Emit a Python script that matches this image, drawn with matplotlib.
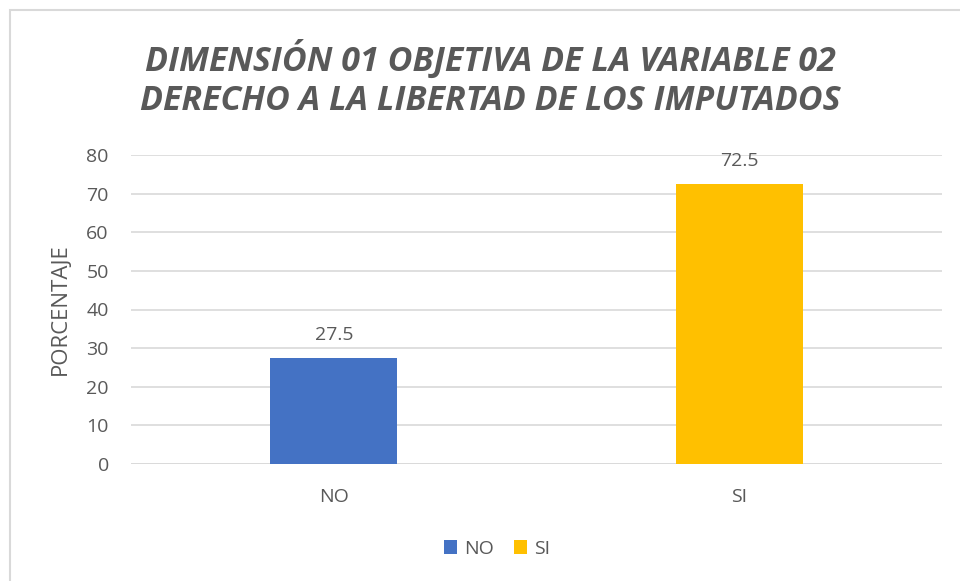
import matplotlib
matplotlib.use("Agg")
import matplotlib.pyplot as plt
from matplotlib.patches import Rectangle, Patch

categories = ["NO", "SI"]
values = [27.5, 72.5]
colors = ["#4472C4", "#FFC000"]
yticks = [0, 10, 20, 30, 40, 50, 60, 70, 80]
title = "DIMENSIÓN 01 OBJETIVA DE LA VARIABLE 02\nDERECHO A LA LIBERTAD DE LOS IMPUTADOS"
ylabel = "PORCENTAJE"

plt.rcParams['font.family'] = ['Open Sans', 'DejaVu Sans']
txt = "#595959"

fig = plt.figure(figsize=(9.6, 5.81), dpi=100)
fig.patch.set_facecolor("white")
fig.patches.append(Rectangle((10/960, -0.1), 1.2, 1 - 10/581 + 0.1, transform=fig.transFigure,
                             fill=False, edgecolor="#D9D9D9", linewidth=1.5))

ax = fig.add_axes([131/960, 1 - 464/581, (942 - 131)/960, (464 - 155)/581])
x = list(range(len(categories)))
bars = ax.bar(x, values, width=0.313, color=colors, zorder=3)
ax.set_xlim(-0.5, 1.5)
ax.set_ylim(0, 80)
ax.set_yticks(yticks)
ax.set_xticks(x)
ax.set_xticklabels(categories)
ax.tick_params(axis='both', length=0, colors=txt, labelsize=14)
ax.tick_params(axis='x', pad=17)
ax.tick_params(axis='y', pad=16)
ax.grid(axis='y', color="#D9D9D9", linewidth=1.2, zorder=0)
for s in ax.spines.values():
    s.set_visible(False)
ax.axhline(0, color="#D9D9D9", linewidth=1.2, zorder=1)

for xi, v in zip(x, values):
    ax.annotate(f"{v}", (xi, v), xytext=(0, 10), textcoords="offset points",
                ha="center", va="bottom", fontsize=14, color=txt)

ax.set_ylabel(ylabel, fontsize=16, color=txt)
ax.yaxis.set_label_coords(-0.074, 0.5)

fig.text(490/960, 1 - 79/581, title, ha="center", va="center", fontsize=24.5,
         fontweight="bold", fontstyle="italic", color=txt, linespacing=1.2)

handles = [Patch(facecolor=c, label=l) for c, l in zip(colors, categories)]
fig.legend(handles=handles, loc="center", bbox_to_anchor=(497/960, 1 - 549/581), ncol=2,
           frameon=False, fontsize=14, labelcolor=txt, handlelength=0.7, handleheight=0.7,
           handletextpad=0.35, columnspacing=1.0)

fig.savefig("out.png", dpi=100)
